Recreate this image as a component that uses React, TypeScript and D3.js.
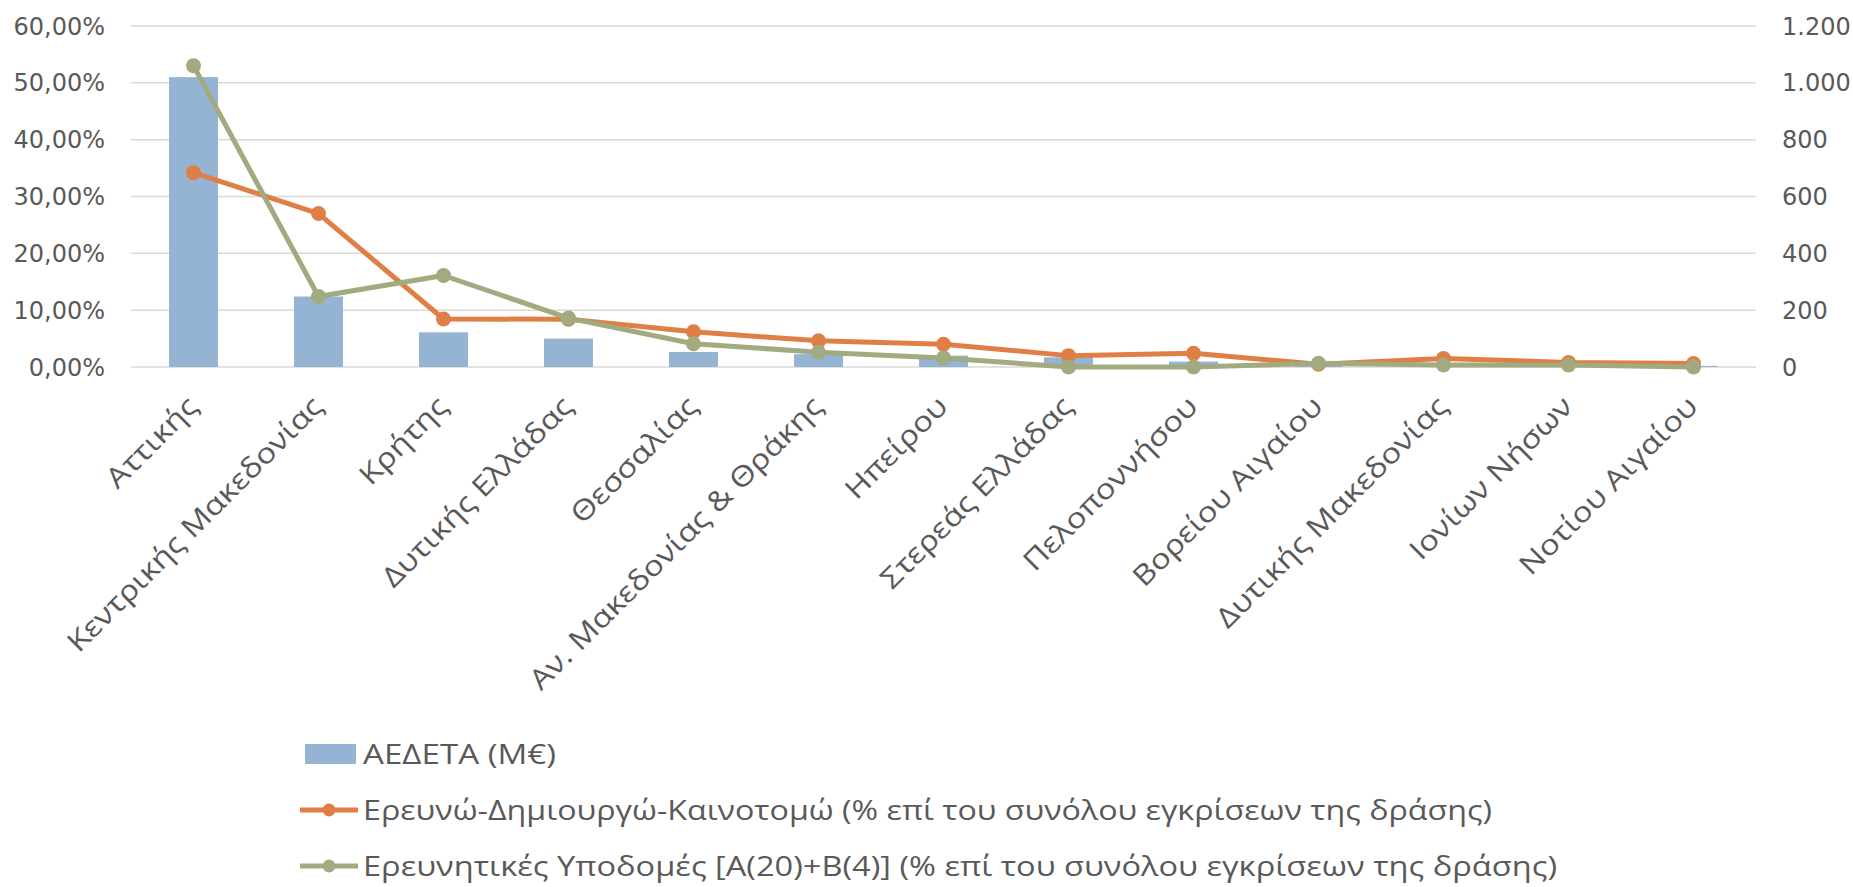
import * as d3 from "d3";

const categories = [
  "Αττικής",
  "Κεντρικής Μακεδονίας",
  "Κρήτης",
  "Δυτικής Ελλάδας",
  "Θεσσαλίας",
  "Αν. Μακεδονίας & Θράκης",
  "Ηπείρου",
  "Στερεάς Ελλάδας",
  "Πελοποννήσου",
  "Βορείου Αιγαίου",
  "Δυτικής Μακεδονίας",
  "Ιονίων Νήσων",
  "Νοτίου Αιγαίου",
];

// ΑΕΔΕΤΑ (M€) - right axis
const aedeta = [1020, 248, 122, 100, 53, 45, 40, 34, 19, 10, 9, 5, 4];
// % share, left axis
const erevno = [0.342, 0.27, 0.0845, 0.084, 0.062, 0.046, 0.04, 0.02, 0.024, 0.005, 0.015, 0.008, 0.006];
const ypodomes = [0.53, 0.124, 0.161, 0.086, 0.041, 0.026, 0.016, 0, 0, 0.0065, 0.0035, 0.0035, 0];

const leftTicks = [0, 0.1, 0.2, 0.3, 0.4, 0.5, 0.6];
const rightTicks = [0, 200, 400, 600, 800, 1000, 1200];

const legendLabels = [
  "ΑΕΔΕΤΑ (Μ€)",
  "Ερευνώ-Δημιουργώ-Καινοτομώ (% επί του συνόλου εγκρίσεων της δράσης)",
  "Ερευνητικές Υποδομές [Α(20)+Β(4)] (% επί του συνόλου εγκρίσεων της δράσης)",
];

const W = 1853;
const H = 887;
const plotLeft = 131;
const plotRight = 1756;
const plotTop = 26;
const plotBottom = 367;

const BAR = "#95B4D4";
const ORANGE = "#DF7F46";
const GREEN = "#A2AA7F";
const TEXT = "#595959";
const GRID = "#D9D9D9";

const locale = d3.formatLocale({
  decimal: ",",
  thousands: ".",
  grouping: [3],
  currency: ["", "€"],
});
const fmtPct = locale.format(".2%");
const fmtNum = locale.format(",");

const App = () => {
  const x = d3
    .scaleBand<string>()
    .domain(categories)
    .range([plotLeft, plotRight])
    .paddingInner(0.608)
    .paddingOuter(0.304);
  const center = (c: string) => (x(c) as number) + x.bandwidth() / 2;

  const yL = d3.scaleLinear().domain([0, 0.6]).range([plotBottom, plotTop]);
  const yR = d3.scaleLinear().domain([0, 1200]).range([plotBottom, plotTop]);

  const line = d3
    .line<number>()
    .x((_, i) => center(categories[i]))
    .y((d) => yL(d));

  const series = [
    { data: erevno, color: ORANGE },
    { data: ypodomes, color: GREEN },
  ];

  const legendColors = [BAR, ORANGE, GREEN];
  const legendY = [754, 810, 866];
  const legendWidths = [193, 1129, 1194];

  return (
    <svg
      width={W}
      height={H}
      style={{ position: "absolute", left: 0, top: 0, background: "#fff" }}
    >
      {/* gridlines */}
      {leftTicks.map((t) => (
        <line
          key={t}
          x1={plotLeft}
          x2={plotRight}
          y1={yL(t)}
          y2={yL(t)}
          stroke={GRID}
          strokeWidth={1.5}
        />
      ))}

      {/* left axis */}
      {leftTicks.map((t) => (
        <text
          key={"l" + t}
          x={105}
          y={yL(t)}
          dy="0.36em"
          textAnchor="end"
          fontFamily="DejaVu Sans"
          fontSize={24}
          fill={TEXT}
        >
          {fmtPct(t)}
        </text>
      ))}

      {/* right axis */}
      {rightTicks.map((t) => (
        <text
          key={"r" + t}
          x={1782}
          y={yR(t)}
          dy="0.36em"
          textAnchor="start"
          fontFamily="DejaVu Sans"
          fontSize={24}
          fill={TEXT}
        >
          {fmtNum(t)}
        </text>
      ))}

      {/* bars */}
      {categories.map((c, i) => (
        <rect
          key={c}
          x={x(c)}
          y={yR(aedeta[i])}
          width={x.bandwidth()}
          height={plotBottom - yR(aedeta[i])}
          fill={BAR}
        />
      ))}

      {/* lines */}
      {series.map((s, k) => (
        <g key={k}>
          <path
            d={line(s.data) as string}
            fill="none"
            stroke={s.color}
            strokeWidth={5}
            strokeLinejoin="round"
          />
          {s.data.map((d, i) => (
            <circle
              key={i}
              cx={center(categories[i])}
              cy={yL(d)}
              r={7.5}
              fill={s.color}
            />
          ))}
        </g>
      ))}

      {/* x labels */}
      {categories.map((c) => (
        <text
          key={"x" + c}
          transform={`translate(${center(c) + 6},${plotBottom + 41}) rotate(-45) scale(1.17,1)`}
          textAnchor="end"
          fontFamily="Open Sans"
          fontSize={28}
          fill={TEXT}
        >
          {c}
        </text>
      ))}

      {/* legend */}
      {legendLabels.map((l, i) => (
        <g key={l}>
          {i === 0 ? (
            <rect x={305} y={legendY[i] - 10} width={51} height={20} fill={BAR} />
          ) : (
            <g>
              <line
                x1={300}
                x2={358}
                y1={legendY[i]}
                y2={legendY[i]}
                stroke={legendColors[i]}
                strokeWidth={5}
              />
              <circle cx={329} cy={legendY[i]} r={6.5} fill={legendColors[i]} />
            </g>
          )}
          <text
            x={363}
            y={legendY[i]}
            dy="0.36em"
            fontFamily="Open Sans"
            fontSize={28}
            fill={TEXT}
            textLength={legendWidths[i]}
            lengthAdjust="spacingAndGlyphs"
          >
            {l}
          </text>
        </g>
      ))}
    </svg>
  );
};

export default App;
